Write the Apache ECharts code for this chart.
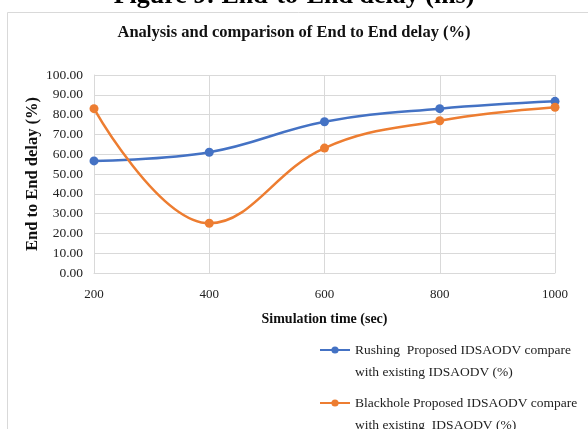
<!DOCTYPE html>
<html>
<head>
<meta charset="utf-8">
<script src="https://cdn.jsdelivr.net/npm/echarts@6/dist/echarts.min.js"></script>
<style>
html, body { margin: 0; padding: 0; background: #fff; }
#box { width: 588px; height: 429px; }
</style>
</head>
<body>
<div id="box"></div>
<script>
var myChart = echarts.init(document.getElementById('box')) //图表容器

// 数据
var simTime = ['200', '400', '600', '800', '1000'];
var rushing = [56.6, 61.0, 76.4, 83.0, 86.7];
var blackhole = [83.0, 25.1, 63.1, 76.9, 83.7];
var seriesNames = [
    'Rushing  Proposed IDSAODV compare\nwith existing IDSAODV (%)',
    'Blackhole Proposed IDSAODV compare\nwith existing  IDSAODV (%)'
];

var serif = '"Liberation Serif", "Times New Roman", serif';

option = {
    backgroundColor: '#fff',
    textStyle: { fontFamily: serif },
    title: {
        text: 'Analysis and comparison of End to End delay (%)',
        left: 'center',
        top: 19,
        textStyle: {
            fontFamily: serif,
            fontWeight: 'bold',
            fontSize: 16.5,
            color: '#111'
        }
    },
    graphic: [{
        type: 'rect',
        shape: { x: 7.5, y: 12.5, width: 590, height: 430 },
        style: { fill: 'none', stroke: '#d9d9d9', lineWidth: 1 }
    }, {
        type: 'text',
        left: 'center',
        top: -17,
        style: {
            text: 'Figure 9: End-to-End delay (ms)',
            font: 'bold 26px ' + serif,
            fill: '#000'
        }
    }],
    legend: {
        orient: 'vertical',
        left: 314,
        top: 312,
        height: 160,
        itemGap: -13,
        itemWidth: 30,
        itemHeight: 9,
        data: seriesNames,
        // 前面空一行，让图标对齐第一行文字
        formatter: function (name) { return '\n' + name; },
        textStyle: {
            fontFamily: serif,
            fontSize: 13.5,
            color: '#222',
            lineHeight: 22
        }
    },
    grid: {
        left: 94,
        right: 33,
        top: 75,
        bottom: 156
    },
    xAxis: {
        type: 'category',
        boundaryGap: false,
        data: simTime,
        name: 'Simulation time (sec)',
        nameLocation: 'middle',
        nameGap: 39,
        nameTextStyle: {
            fontFamily: serif,
            fontWeight: 'bold',
            fontSize: 14,
            color: '#111'
        },
        axisLine: { lineStyle: { color: '#d9d9d9' } },
        axisTick: { show: false },
        axisLabel: {
            fontFamily: serif,
            fontSize: 13,
            color: '#222',
            margin: 15
        },
        splitLine: { show: true, lineStyle: { color: '#d9d9d9' } }
    },
    yAxis: {
        type: 'value',
        min: 0,
        max: 100,
        interval: 10,
        name: 'End to End delay (%)',
        nameLocation: 'middle',
        nameGap: 53,
        nameMoveOverlap: false,
        nameTextStyle: {
            fontFamily: serif,
            fontWeight: 'bold',
            fontSize: 16.5,
            color: '#111'
        },
        axisLine: { show: true, lineStyle: { color: '#d9d9d9' } },
        axisTick: { show: false },
        axisLabel: {
            fontFamily: serif,
            fontSize: 13.5,
            color: '#222',
            margin: 11,
            formatter: function (v) { return v.toFixed(2); }
        },
        splitLine: { lineStyle: { color: '#d9d9d9' } }
    },
    series: [{
        name: seriesNames[0],
        type: 'line',
        data: rushing,
        smooth: 0.4,
        symbol: 'circle',
        symbolSize: 9,
        color: '#4472C4',
        lineStyle: { width: 2.5 }
    }, {
        name: seriesNames[1],
        type: 'line',
        data: blackhole,
        smooth: 0.4,
        symbol: 'circle',
        symbolSize: 9,
        color: '#ED7D31',
        lineStyle: { width: 2.5 }
    }]
};

myChart.setOption(option)
</script>
</body>
</html>
